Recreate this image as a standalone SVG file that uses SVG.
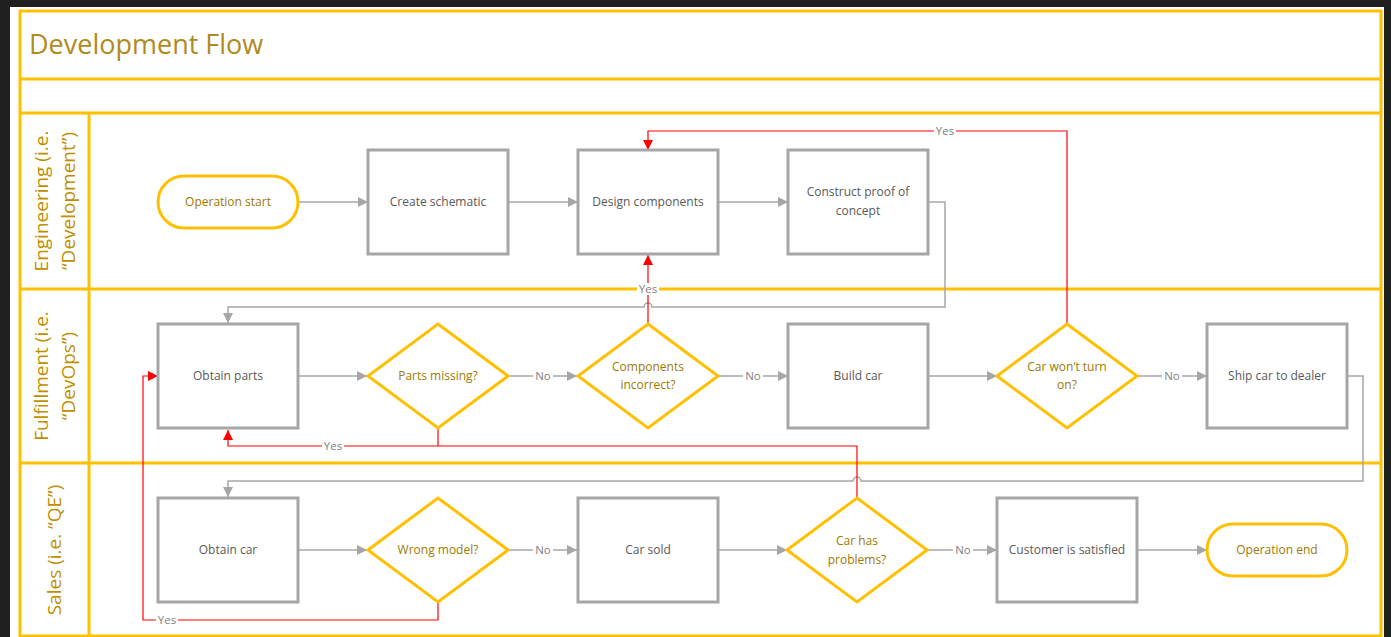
<svg xmlns="http://www.w3.org/2000/svg" width="1391" height="637" viewBox="0 0 1391 637">
<style>
.frame{fill:none;stroke:#FFC000;stroke-width:3}
.box{fill:#FFFFFF;stroke:#A6A6A6;stroke-width:3}
.dec{fill:#FFFFFF;stroke:#FFC000;stroke-width:3}
.term{fill:#FFFFFF;stroke:#FFC000;stroke-width:3}
.bt{font-family:"Open Sans","Noto Sans",sans-serif;font-size:12px;fill:#595959;text-anchor:middle}
.yt{font-family:"Open Sans","Noto Sans",sans-serif;font-size:12px;fill:#9C7A00;text-anchor:middle}
.lane{font-family:"Open Sans","Noto Sans",sans-serif;font-size:19px;fill:#BF8F00;text-anchor:middle}
.title{font-family:"Open Sans","Noto Sans",sans-serif;font-size:27px;fill:#B08A1E}
.g{fill:none;stroke:#A6A6A6;stroke-width:1.5}
.r{fill:none;stroke:#FF0000;stroke-width:1.2}
.lbl{font-family:"Open Sans","Noto Sans",sans-serif;font-size:11.5px;fill:#7F7F7F;text-anchor:middle}
.lb{fill:#FFFFFF}
</style>
<defs>
<marker id="ag" viewBox="0 0 10 10" refX="10" refY="5" markerWidth="10" markerHeight="10" markerUnits="userSpaceOnUse" orient="auto"><path d="M0,0 L10,5 L0,10 z" fill="#A6A6A6"/></marker>
<marker id="ar" viewBox="0 0 10 10" refX="10" refY="5" markerWidth="10" markerHeight="10" markerUnits="userSpaceOnUse" orient="auto"><path d="M0,0 L10,5 L0,10 z" fill="#FF0000"/></marker>
</defs>
<rect x="0" y="0" width="1391" height="637" fill="#1F1F1F"/>
<rect x="10" y="7" width="1374" height="630" fill="#FFFFFF"/>
<g id="frame">
<rect class="frame" x="20" y="11" width="1361" height="625"/>
<line class="frame" x1="20" y1="79" x2="1381" y2="79"/>
<line class="frame" x1="20" y1="113" x2="1381" y2="113"/>
<line class="frame" x1="20" y1="289" x2="1381" y2="289"/>
<line class="frame" x1="20" y1="463" x2="1381" y2="463"/>
<line class="frame" x1="89" y1="113" x2="89" y2="636"/>
<text class="title" x="29" y="54">Development Flow</text>
<text class="lane" transform="translate(48,201) rotate(-90)">Engineering (i.e.</text>
<text class="lane" transform="translate(75,201) rotate(-90)">“Development”)</text>
<text class="lane" transform="translate(48,376) rotate(-90)">Fulfillment (i.e.</text>
<text class="lane" transform="translate(75,376) rotate(-90)">“DevOps”)</text>
<text class="lane" transform="translate(61,550) rotate(-90)">Sales (i.e. “QE”)</text>
</g>
<g id="connectors">
<path class="g" d="M298,202 H368" marker-end="url(#ag)"/>
<path class="g" d="M508,202 H578" marker-end="url(#ag)"/>
<path class="g" d="M718,202 H788" marker-end="url(#ag)"/>
<path class="g" d="M928,202 H945 V307 H652 a4,4 0 0 0 -8,0 H228 V323" marker-end="url(#ag)"/>
<path class="g" d="M299,376 H367" marker-end="url(#ag)"/>
<path class="g" d="M509,376 H577" marker-end="url(#ag)"/>
<path class="g" d="M718,376 H788" marker-end="url(#ag)"/>
<path class="g" d="M928,376 H997" marker-end="url(#ag)"/>
<path class="g" d="M1138,376 H1207" marker-end="url(#ag)"/>
<path class="g" d="M1347,376 H1363 V481 H861 a4,4 0 0 0 -8,0 H228 V497" marker-end="url(#ag)"/>
<path class="g" d="M299,550 H367" marker-end="url(#ag)"/>
<path class="g" d="M509,550 H577" marker-end="url(#ag)"/>
<path class="g" d="M718,550 H787" marker-end="url(#ag)"/>
<path class="g" d="M928,550 H997" marker-end="url(#ag)"/>
<path class="g" d="M1138,550 H1207" marker-end="url(#ag)"/>
<path class="r" d="M648,323 V255" marker-end="url(#ar)"/>
<path class="r" d="M1067,323 V131 H648 V150" marker-end="url(#ar)"/>
<path class="r" d="M438,428 V446"/>
<path class="r" d="M857,497 V446 H228 V430" marker-end="url(#ar)"/>
<path class="r" d="M438,603 V620 H143 V376 H158" marker-end="url(#ar)"/>
<rect class="lb" x="533" y="369" width="20" height="14"/><text class="lbl" x="543" y="380">No</text>
<rect class="lb" x="743" y="369" width="20" height="14"/><text class="lbl" x="753" y="380">No</text>
<rect class="lb" x="1162" y="369" width="20" height="14"/><text class="lbl" x="1172" y="380">No</text>
<rect class="lb" x="533" y="543" width="20" height="14"/><text class="lbl" x="543" y="554">No</text>
<rect class="lb" x="953" y="543" width="20" height="14"/><text class="lbl" x="963" y="554">No</text>
<rect class="lb" x="934" y="124" width="22" height="14"/><text class="lbl" x="945" y="135">Yes</text>
<rect class="lb" x="637" y="283" width="22" height="12"/><text class="lbl" x="648" y="293">Yes</text>
<rect class="lb" x="322" y="439" width="22" height="14"/><text class="lbl" x="333" y="450">Yes</text>
<rect class="lb" x="156" y="613" width="22" height="14"/><text class="lbl" x="167" y="624">Yes</text>
</g>
<g id="n-start"><rect class="term" x="158" y="176" width="140" height="52" rx="26"/><text class="yt" x="228" y="206">Operation start</text></g>
<g id="n-schematic"><rect class="box" x="368" y="150" width="140" height="104"/><text class="bt" x="438" y="206">Create schematic</text></g>
<g id="n-design"><rect class="box" x="578" y="150" width="140" height="104"/><text class="bt" x="648" y="206">Design components</text></g>
<g id="n-proof"><rect class="box" x="788" y="150" width="140" height="104"/><text class="bt" x="858" y="196">Construct proof of</text><text class="bt" x="858" y="215">concept</text></g>
<g id="n-parts"><rect class="box" x="158" y="324" width="140" height="104"/><text class="bt" x="228" y="380">Obtain parts</text></g>
<g id="n-missing"><polygon class="dec" points="438,324 508,376 438,428 368,376"/><text class="yt" x="438" y="380">Parts missing?</text></g>
<g id="n-incorrect"><polygon class="dec" points="648,324 718,376 648,428 578,376"/><text class="yt" x="648" y="371">Components</text><text class="yt" x="648" y="389">incorrect?</text></g>
<g id="n-build"><rect class="box" x="788" y="324" width="140" height="104"/><text class="bt" x="858" y="380">Build car</text></g>
<g id="n-turnon"><polygon class="dec" points="1067,324 1137,376 1067,428 997,376"/><text class="yt" x="1067" y="371">Car won’t turn</text><text class="yt" x="1067" y="389">on?</text></g>
<g id="n-ship"><rect class="box" x="1207" y="324" width="140" height="104"/><text class="bt" x="1277" y="380">Ship car to dealer</text></g>
<g id="n-obtaincar"><rect class="box" x="158" y="498" width="140" height="104"/><text class="bt" x="228" y="554">Obtain car</text></g>
<g id="n-wrong"><polygon class="dec" points="438,498 508,550 438,602 368,550"/><text class="yt" x="438" y="554">Wrong model?</text></g>
<g id="n-sold"><rect class="box" x="578" y="498" width="140" height="104"/><text class="bt" x="648" y="554">Car sold</text></g>
<g id="n-problems"><polygon class="dec" points="857,498 927,550 857,602 787,550"/><text class="yt" x="857" y="545">Car has</text><text class="yt" x="857" y="564">problems?</text></g>
<g id="n-satisfied"><rect class="box" x="997" y="498" width="140" height="104"/><text class="bt" x="1067" y="554">Customer is satisfied</text></g>
<g id="n-end"><rect class="term" x="1207" y="524" width="140" height="52" rx="26"/><text class="yt" x="1277" y="554">Operation end</text></g>
</svg>
